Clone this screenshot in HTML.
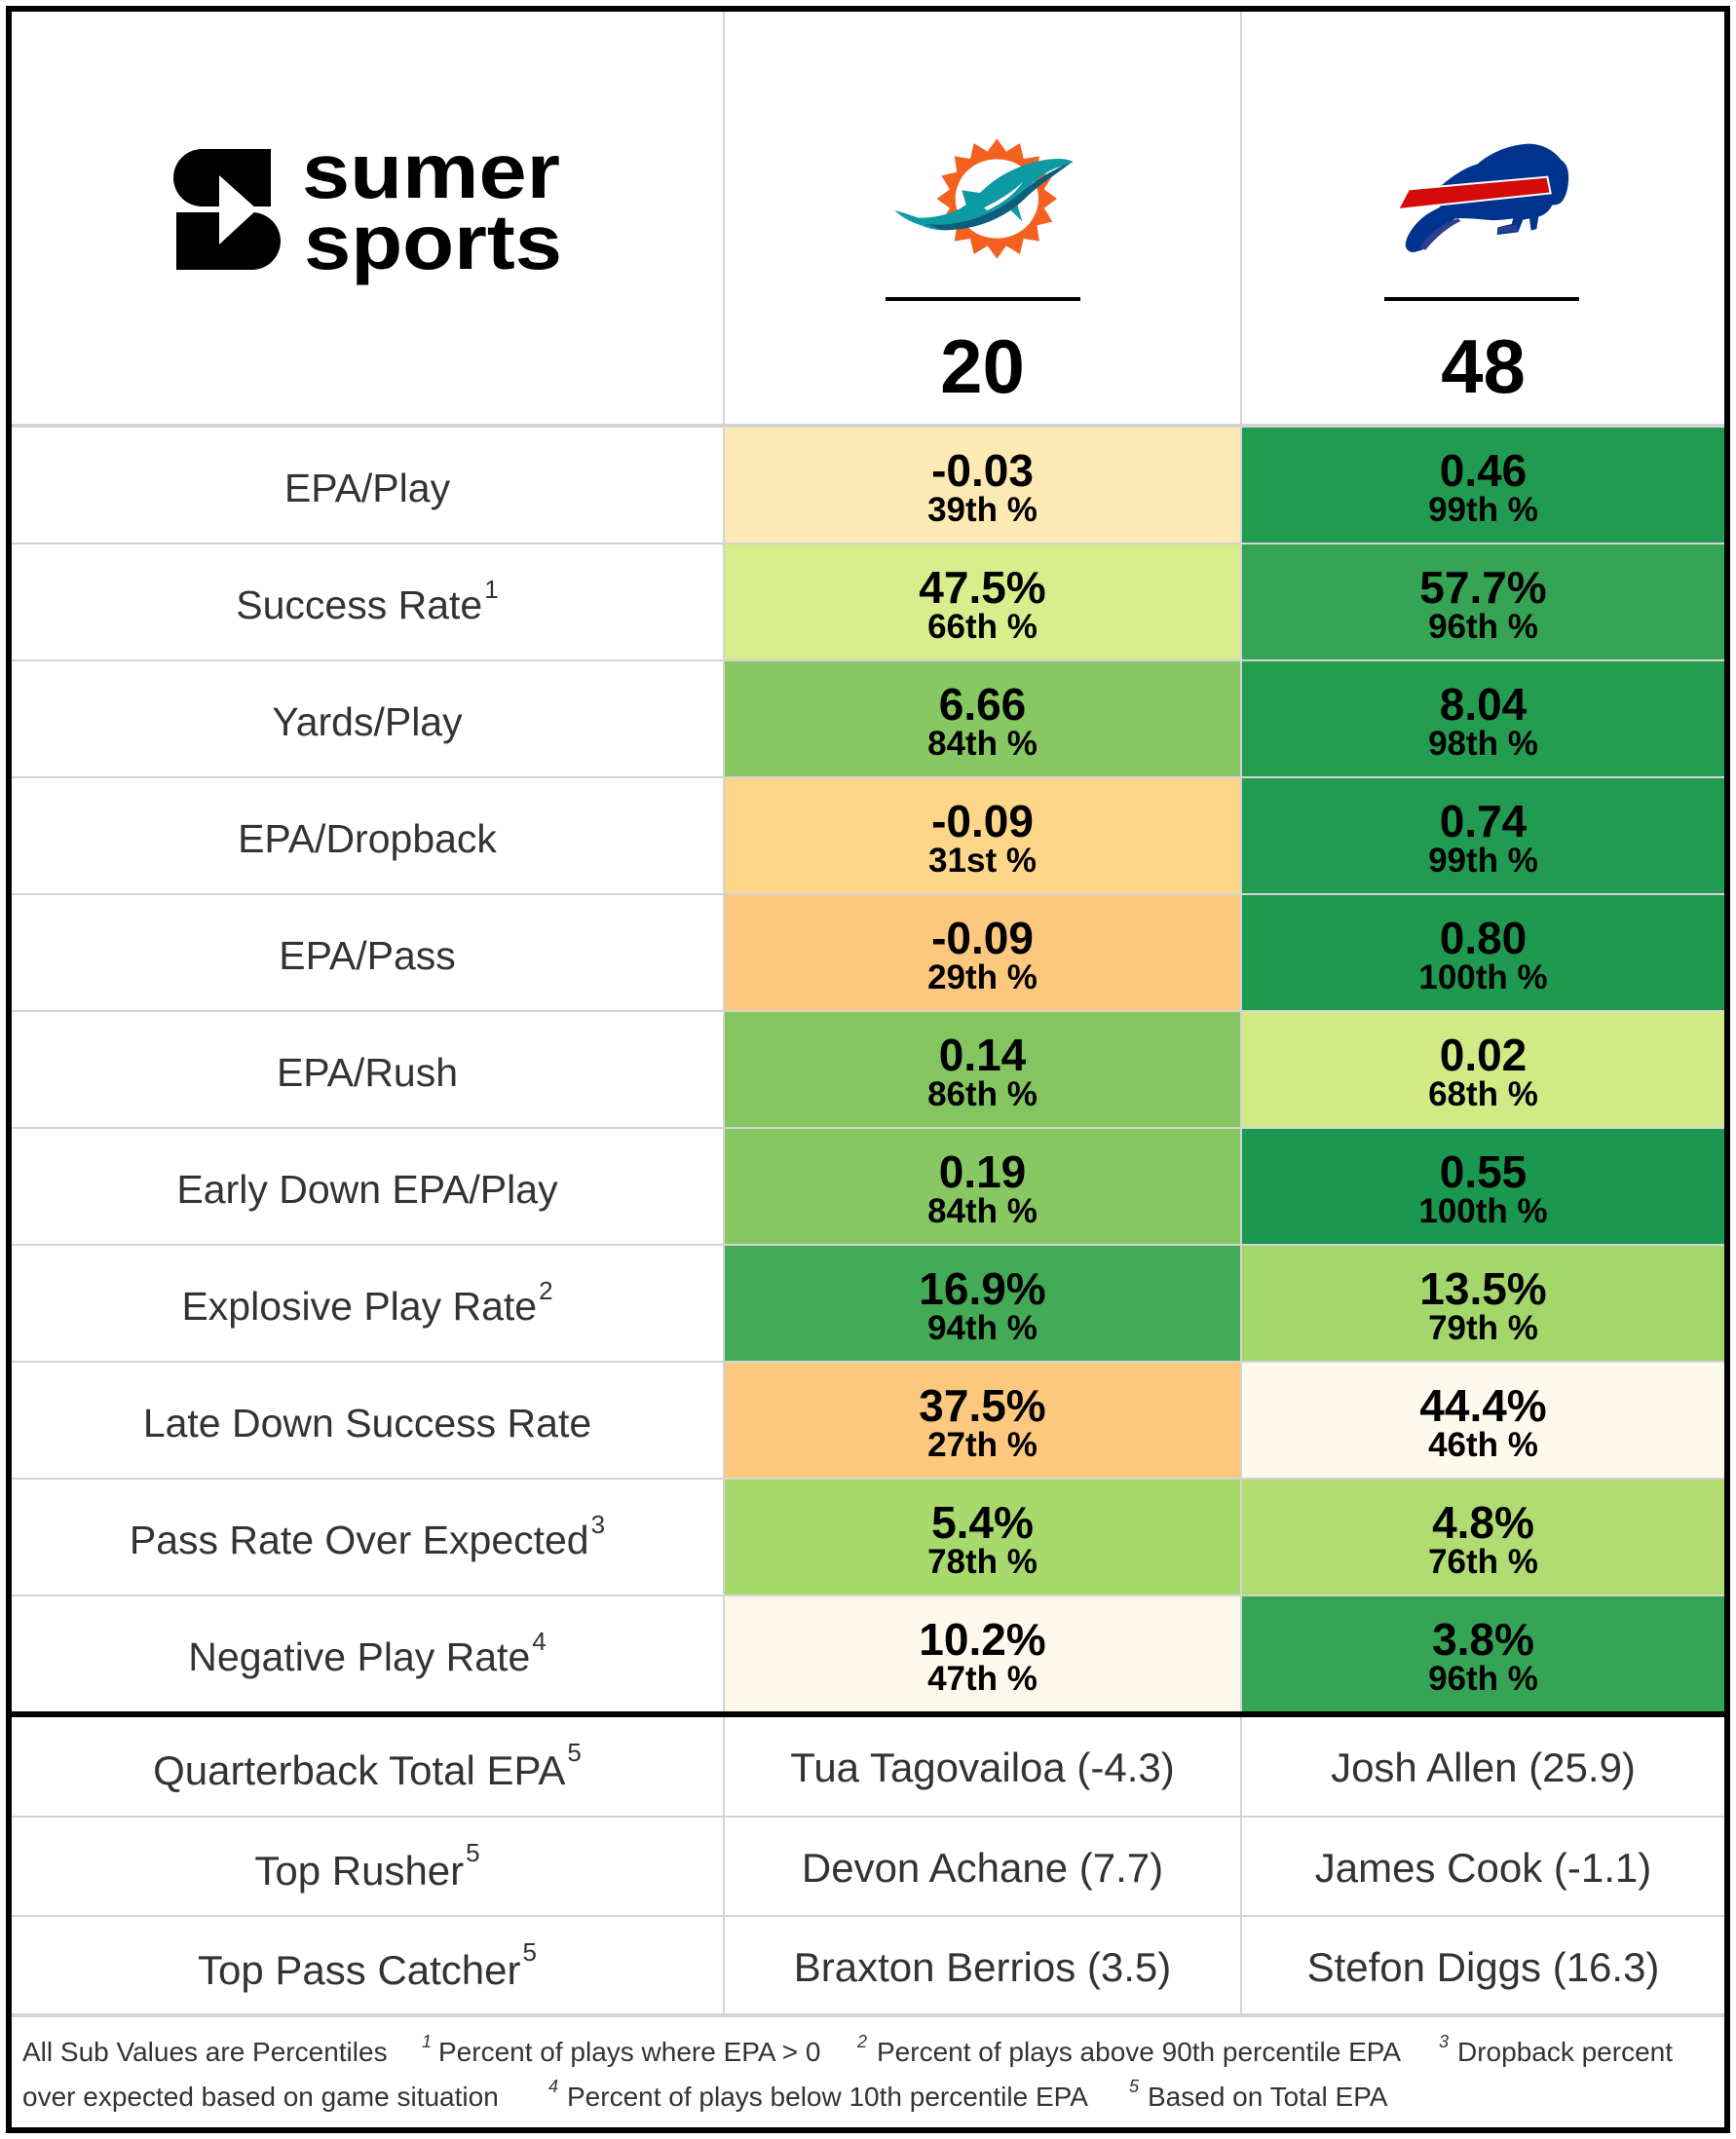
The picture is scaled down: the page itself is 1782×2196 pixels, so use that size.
<!DOCTYPE html>
<html>
<head>
<meta charset="utf-8">
<style>
  html, body { margin:0; padding:0; }
  body { width:1782px; height:2196px; background:#fff; position:relative; overflow:hidden;
         font-family:"Liberation Sans", Arial, sans-serif; }
  .frame { position:absolute; left:6px; top:6px; width:1770px; height:2184px; box-sizing:border-box;
           border:6px solid #000; background:#d4d4d4; }
  .c { position:absolute; background:#fff; overflow:hidden; }
  .lab { position:absolute; left:0; right:0; top:42px; font-size:41px; line-height:41px; text-align:center; color:#333; white-space:nowrap; }
  .val { position:absolute; left:0; right:0; top:21px; font-size:46px; line-height:46px; font-weight:bold; text-align:center; color:#000; white-space:nowrap; }
  .pct { position:absolute; left:0; right:0; top:67px; font-size:35px; line-height:35px; font-weight:bold; text-align:center; color:#000; white-space:nowrap; }
  .sup { font-size:26px; position:relative; top:-21px; margin-left:2px; }
  .plab { position:absolute; left:0; right:0; top:34px; font-size:42px; line-height:42px; text-align:center; color:#333; white-space:nowrap; }
  .pname { position:absolute; left:0; right:0; top:31px; font-size:42px; line-height:42px; text-align:center; color:#333; white-space:nowrap; }
  .psup { font-size:26px; position:relative; top:-24px; margin-left:2px; }
  .ft { position:absolute; font-size:28px; line-height:28px; color:#333; white-space:nowrap; }
  .fs { position:absolute; font-size:18px; line-height:18px; color:#333; font-style:italic; white-space:nowrap; }
  .score { position:absolute; top:337px; font-size:78px; line-height:78px; font-weight:bold; text-align:center; color:#000; }
  .bar { position:absolute; top:305px; width:200px; height:4px; background:#000; }
</style>
</head>
<body>
<div class="frame"></div>

<!-- Header cells -->
<div class="c" style="left:12px;top:12px;width:730px;height:423px;"></div>
<div class="c" style="left:744px;top:12px;width:529px;height:423px;"></div>
<div class="c" style="left:1275px;top:12px;width:495px;height:423px;"></div>

<!-- Sumer logo -->
<svg style="position:absolute;left:160px;top:120px;" width="440" height="190" viewBox="0 0 440 190">
  <path d="M47.5,33 H118 V92 H47.5 A29.5,29.5 0 0 1 47.5,33 Z" fill="#000"/>
  <path d="M21,98 H98.5 A29.5,29.5 0 0 1 98.5,157 H21 Z" fill="#000"/>
  <polygon points="65,60 104,95 65,131" fill="#fff"/>
  <text x="150" y="83" font-family="Liberation Sans, sans-serif" font-weight="bold" font-size="80" textLength="265" lengthAdjust="spacingAndGlyphs" fill="#000">sumer</text>
  <text x="152" y="156" font-family="Liberation Sans, sans-serif" font-weight="bold" font-size="80" textLength="265" lengthAdjust="spacingAndGlyphs" fill="#000">sports</text>
</svg>

<!-- Dolphins logo -->
<svg style="position:absolute;left:900px;top:130px;" width="220" height="150" viewBox="0 0 660 450">
  <polygon fill="#F4601F" points="555,222 515.2,250.9 540.9,292.8 493.1,304.2 500.8,352.8 452.2,345.1 440.8,392.9 398.9,367.2 370,407 341.1,367.2 299.2,392.9 287.8,345.1 239.2,352.8 246.9,304.2 199.1,292.8 224.8,250.9 185,222 224.8,193.1 199.1,151.2 246.9,139.8 239.2,91.2 287.8,98.9 299.2,51.1 341.1,76.8 370,37 398.9,76.8 440.8,51.1 452.2,98.9 500.8,91.2 493.1,139.8 540.9,151.2 515.2,193.1"/>
  <ellipse cx="370" cy="222" rx="128" ry="122" fill="#fff"/>
  <path fill="#0E9AA5" d="M55,258 C75,262 100,272 125,280 C160,284 235,272 275,240 L262,196 L318,204 C370,150 450,112 520,102 C560,97 585,98 605,108 C590,118 570,122 550,128 C500,150 460,190 430,230 L448,292 L405,250 C350,290 290,312 230,318 C190,322 160,315 140,305 C110,296 80,282 55,258 Z"/>
  <path fill="#0B5E7C" d="M150,300 C250,312 360,272 430,215 C480,172 540,132 600,110 C565,138 505,175 458,220 C392,284 300,322 200,318 Z"/>
  <path fill="#fff" d="M330,250 C380,225 420,200 450,170 C430,200 400,230 340,258 Z"/>
</svg>

<!-- Bills logo -->
<svg style="position:absolute;left:1420px;top:135px;" width="200" height="135" viewBox="0 0 600 405">
  <path fill="#00338D" d="M180,165 C215,135 250,112 290,100 C330,65 385,42 445,38 C490,38 525,58 548,88 C568,100 572,128 570,155 C567,185 560,205 548,218 C540,225 528,228 520,226 C512,245 495,258 478,262 L472,300 L455,305 L450,268 L430,272 L415,310 L350,318 L352,295 L395,285 L400,268 C370,272 340,275 315,272 C280,268 245,266 222,268 C180,295 140,330 120,365 L95,372 C80,372 70,365 68,350 C70,320 95,285 130,258 C150,245 165,238 175,232 Z"/>
  <path fill="#2D3E8E" d="M112,360 C135,318 175,285 230,268 L238,276 C195,296 158,330 130,365 Z"/>
  <path fill="#2D3E8E" d="M352,312 L356,296 L410,288 L414,306 Z"/>
  <polygon points="78,178 505,140 515,190 45,240" fill="#D50A0A" stroke="#fff" stroke-width="6"/>
</svg>

<div class="bar" style="left:909px;"></div>
<div class="bar" style="left:1421px;"></div>
<div class="score" style="left:744px;width:529px;">20</div>
<div class="score" style="left:1275px;width:495px;">48</div>

<!-- Data rows -->
<div class="c" style="left:12px;top:439px;width:730px;height:118px;"><div class="lab">EPA/Play</div></div>
<div class="c" style="left:744px;top:439px;width:529px;height:118px;background:#FDE9B4;"><div class="val">-0.03</div><div class="pct">39th %</div></div>
<div class="c" style="left:1275px;top:439px;width:495px;height:118px;background:#219B51;"><div class="val">0.46</div><div class="pct">99th %</div></div>

<div class="c" style="left:12px;top:559px;width:730px;height:118px;"><div class="lab">Success Rate<span class="sup">1</span></div></div>
<div class="c" style="left:744px;top:559px;width:529px;height:118px;background:#D9ED8C;"><div class="val">47.5%</div><div class="pct">66th %</div></div>
<div class="c" style="left:1275px;top:559px;width:495px;height:118px;background:#35A455;"><div class="val">57.7%</div><div class="pct">96th %</div></div>

<div class="c" style="left:12px;top:679px;width:730px;height:118px;"><div class="lab">Yards/Play</div></div>
<div class="c" style="left:744px;top:679px;width:529px;height:118px;background:#88C862;"><div class="val">6.66</div><div class="pct">84th %</div></div>
<div class="c" style="left:1275px;top:679px;width:495px;height:118px;background:#249D51;"><div class="val">8.04</div><div class="pct">98th %</div></div>

<div class="c" style="left:12px;top:799px;width:730px;height:118px;"><div class="lab">EPA/Dropback</div></div>
<div class="c" style="left:744px;top:799px;width:529px;height:118px;background:#FDD68A;"><div class="val">-0.09</div><div class="pct">31st %</div></div>
<div class="c" style="left:1275px;top:799px;width:495px;height:118px;background:#219B51;"><div class="val">0.74</div><div class="pct">99th %</div></div>

<div class="c" style="left:12px;top:919px;width:730px;height:118px;"><div class="lab">EPA/Pass</div></div>
<div class="c" style="left:744px;top:919px;width:529px;height:118px;background:#FCC87E;"><div class="val">-0.09</div><div class="pct">29th %</div></div>
<div class="c" style="left:1275px;top:919px;width:495px;height:118px;background:#1F9950;"><div class="val">0.80</div><div class="pct">100th %</div></div>

<div class="c" style="left:12px;top:1039px;width:730px;height:118px;"><div class="lab">EPA/Rush</div></div>
<div class="c" style="left:744px;top:1039px;width:529px;height:118px;background:#84C55F;"><div class="val">0.14</div><div class="pct">86th %</div></div>
<div class="c" style="left:1275px;top:1039px;width:495px;height:118px;background:#D2EA86;"><div class="val">0.02</div><div class="pct">68th %</div></div>

<div class="c" style="left:12px;top:1159px;width:730px;height:118px;"><div class="lab">Early Down EPA/Play</div></div>
<div class="c" style="left:744px;top:1159px;width:529px;height:118px;background:#88C862;"><div class="val">0.19</div><div class="pct">84th %</div></div>
<div class="c" style="left:1275px;top:1159px;width:495px;height:118px;background:#1A9850;"><div class="val">0.55</div><div class="pct">100th %</div></div>

<div class="c" style="left:12px;top:1279px;width:730px;height:118px;"><div class="lab">Explosive Play Rate<span class="sup">2</span></div></div>
<div class="c" style="left:744px;top:1279px;width:529px;height:118px;background:#43AA56;"><div class="val">16.9%</div><div class="pct">94th %</div></div>
<div class="c" style="left:1275px;top:1279px;width:495px;height:118px;background:#A3D66B;"><div class="val">13.5%</div><div class="pct">79th %</div></div>

<div class="c" style="left:12px;top:1399px;width:730px;height:118px;"><div class="lab">Late Down Success Rate</div></div>
<div class="c" style="left:744px;top:1399px;width:529px;height:118px;background:#FCC87E;"><div class="val">37.5%</div><div class="pct">27th %</div></div>
<div class="c" style="left:1275px;top:1399px;width:495px;height:118px;background:#FEF9ED;"><div class="val">44.4%</div><div class="pct">46th %</div></div>

<div class="c" style="left:12px;top:1519px;width:730px;height:118px;"><div class="lab">Pass Rate Over Expected<span class="sup">3</span></div></div>
<div class="c" style="left:744px;top:1519px;width:529px;height:118px;background:#A8D96C;"><div class="val">5.4%</div><div class="pct">78th %</div></div>
<div class="c" style="left:1275px;top:1519px;width:495px;height:118px;background:#B0DC72;"><div class="val">4.8%</div><div class="pct">76th %</div></div>

<div class="c" style="left:12px;top:1639px;width:730px;height:118px;"><div class="lab">Negative Play Rate<span class="sup">4</span></div></div>
<div class="c" style="left:744px;top:1639px;width:529px;height:118px;background:#FEF8EB;"><div class="val">10.2%</div><div class="pct">47th %</div></div>
<div class="c" style="left:1275px;top:1639px;width:495px;height:118px;background:#35A455;"><div class="val">3.8%</div><div class="pct">96th %</div></div>

<!-- thick black divider -->
<div style="position:absolute;left:12px;top:1757px;width:1758px;height:6px;background:#000;"></div>

<!-- Player rows -->
<div class="c" style="left:12px;top:1763px;width:730px;height:101px;"><div class="plab">Quarterback Total EPA<span class="psup">5</span></div></div>
<div class="c" style="left:744px;top:1763px;width:529px;height:101px;"><div class="pname">Tua Tagovailoa (-4.3)</div></div>
<div class="c" style="left:1275px;top:1763px;width:495px;height:101px;"><div class="pname">Josh Allen (25.9)</div></div>

<div class="c" style="left:12px;top:1866px;width:730px;height:100px;"><div class="plab">Top Rusher<span class="psup">5</span></div></div>
<div class="c" style="left:744px;top:1866px;width:529px;height:100px;"><div class="pname">Devon Achane (7.7)</div></div>
<div class="c" style="left:1275px;top:1866px;width:495px;height:100px;"><div class="pname">James Cook (-1.1)</div></div>

<div class="c" style="left:12px;top:1968px;width:730px;height:99px;"><div class="plab">Top Pass Catcher<span class="psup">5</span></div></div>
<div class="c" style="left:744px;top:1968px;width:529px;height:99px;"><div class="pname">Braxton Berrios (3.5)</div></div>
<div class="c" style="left:1275px;top:1968px;width:495px;height:99px;"><div class="pname">Stefon Diggs (16.3)</div></div>

<!-- Footer -->
<div class="c" style="left:12px;top:2071px;width:1758px;height:113px;"></div>
<div class="ft" style="left:23px;top:2093px;">All Sub Values are Percentiles</div>
<div class="fs" style="left:433px;top:2087px;">1</div>
<div class="ft" style="left:450px;top:2093px;">Percent of plays where EPA &gt; 0</div>
<div class="fs" style="left:880px;top:2087px;">2</div>
<div class="ft" style="left:900px;top:2093px;">Percent of plays above 90th percentile EPA</div>
<div class="fs" style="left:1477px;top:2087px;">3</div>
<div class="ft" style="left:1496px;top:2093px;">Dropback percent</div>

<div class="ft" style="left:23px;top:2139px;">over expected based on game situation</div>
<div class="fs" style="left:563px;top:2133px;">4</div>
<div class="ft" style="left:582px;top:2139px;">Percent of plays below 10th percentile EPA</div>
<div class="fs" style="left:1159px;top:2133px;">5</div>
<div class="ft" style="left:1178px;top:2139px;">Based on Total EPA</div>
</body>
</html>
